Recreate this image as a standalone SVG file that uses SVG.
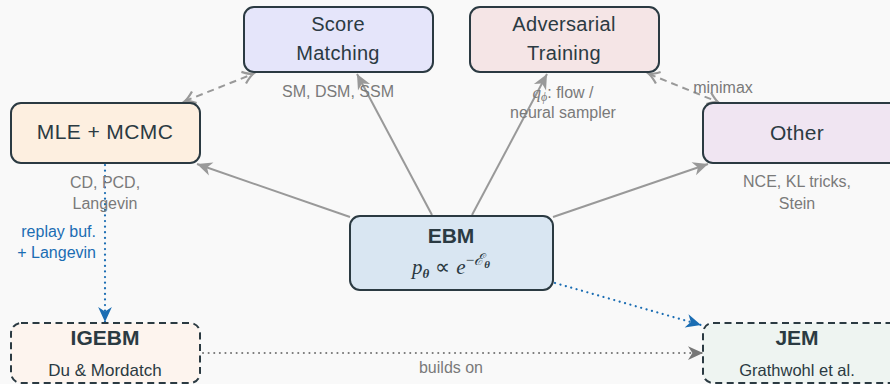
<svg xmlns="http://www.w3.org/2000/svg" width="890" height="384" viewBox="0 0 890 384">
<defs>
<style>
.node{stroke:#2b3a42;stroke-width:2}
.dash{stroke-dasharray:7 4.5}
.t{font-family:"Liberation Sans",Arial,sans-serif;fill:#2b3a42;text-anchor:middle}
.b{font-weight:bold}
.lab{font-family:"Liberation Sans",Arial,sans-serif;fill:#7a7a7a;font-size:16px;text-anchor:middle}
.blab{font-family:"Liberation Sans",Arial,sans-serif;fill:#1b6db3;font-size:16px;text-anchor:end}
.g{stroke:#999;stroke-width:2;fill:none}
.gd{stroke:#999;stroke-width:2;fill:none;stroke-dasharray:7 5}
.bl{stroke:#1b6db3;stroke-width:2.2;fill:none;stroke-dasharray:0.1 5.5;stroke-linecap:round}
.gy{stroke:#777;stroke-width:2;fill:none;stroke-dasharray:0.1 5.5;stroke-linecap:round}
</style>
<marker id="ag" markerUnits="userSpaceOnUse" markerWidth="20" markerHeight="20" refX="0" refY="0" viewBox="-14 -8 16 16" orient="auto">
<path d="M0,0 L-12,-5.5 L-8.5,0 L-12,5.5 z" fill="#999"/>
</marker>
<marker id="ao" markerUnits="userSpaceOnUse" markerWidth="20" markerHeight="20" refX="0" refY="0" viewBox="-12 -8 14 16" orient="auto-start-reverse">
<path d="M-8,-5 Q-3,-1 0,0 Q-3,1 -8,5" fill="none" stroke="#999" stroke-width="1.8"/>
</marker>
<marker id="ab" markerUnits="userSpaceOnUse" markerWidth="20" markerHeight="20" refX="0" refY="0" viewBox="-14 -8 16 16" orient="auto">
<path d="M0,0 L-12,-5.5 L-8.5,0 L-12,5.5 z" fill="#1b6db3"/>
</marker>
<marker id="ay" markerUnits="userSpaceOnUse" markerWidth="20" markerHeight="20" refX="0" refY="0" viewBox="-14 -8 16 16" orient="auto">
<path d="M0,0 L-12,-5.5 L-8.5,0 L-12,5.5 z" fill="#777"/>
</marker>
</defs>
<rect x="0" y="0" width="890" height="384" fill="#f9f9f9"/>

<g id="connectors">
<line class="g" x1="350" y1="217" x2="197" y2="164" marker-end="url(#ag)"/>
<line class="g" x1="432" y1="215" x2="357" y2="74" marker-end="url(#ag)"/>
<line class="g" x1="472" y1="215" x2="547" y2="74" marker-end="url(#ag)"/>
<line class="g" x1="553" y1="217" x2="708" y2="164" marker-end="url(#ag)"/>
<line class="gd" x1="185" y1="101" x2="253" y2="74" marker-start="url(#ao)" marker-end="url(#ao)"/>
<line class="gd" x1="649" y1="74" x2="718" y2="102" marker-start="url(#ao)" marker-end="url(#ao)"/>
<line class="bl" x1="105" y1="165" x2="105" y2="322" marker-end="url(#ab)"/>
<line class="bl" x1="555" y1="283" x2="701" y2="325" marker-end="url(#ab)"/>
<line class="gy" x1="203" y1="353" x2="703" y2="353" marker-end="url(#ay)"/>
</g>

<g id="score-matching">
<rect class="node" x="244" y="7" width="189" height="65" rx="10" fill="#e5e5fa"/>
<text class="t" x="338" y="31" font-size="20" letter-spacing="0.3">Score</text>
<text class="t" x="338" y="60" font-size="20" letter-spacing="0.3">Matching</text>
<text class="lab" x="338" y="97">SM, DSM, SSM</text>
</g>

<g id="adversarial-training">
<rect class="node" x="470" y="7" width="189" height="65" rx="10" fill="#f5e5e6"/>
<text class="t" x="564" y="31" font-size="20" letter-spacing="0.3">Adversarial</text>
<text class="t" x="564" y="60" font-size="20" letter-spacing="0.3">Training</text>
<text class="lab" x="563" y="98"><tspan font-family="Liberation Serif" font-style="italic" font-size="17">q</tspan><tspan font-family="Liberation Serif" font-style="italic" font-size="12" dy="3">ϕ</tspan><tspan dy="-3">:  flow /</tspan></text>
<text class="lab" x="563" y="118">neural sampler</text>
<text class="lab" x="723" y="93">minimax</text>
</g>

<g id="mle-mcmc">
<rect class="node" x="11" y="103" width="189" height="60" rx="10" fill="#fdefe0"/>
<text class="t" x="105" y="139" font-size="21" letter-spacing="0.4">MLE + MCMC</text>
<text class="lab" x="105" y="188">CD, PCD,</text>
<text class="lab" x="105" y="209">Langevin</text>
<text class="blab" x="96" y="237">replay buf.</text>
<text class="blab" x="96" y="258">+ Langevin</text>
</g>

<g id="other">
<rect class="node" x="703" y="103" width="196" height="60" rx="10" fill="#f0e5f2"/>
<text class="t" x="797" y="140" font-size="21" letter-spacing="0.3">Other</text>
<text class="lab" x="797" y="187">NCE, KL tricks,</text>
<text class="lab" x="797" y="209">Stein</text>
</g>

<g id="ebm">
<rect class="node" x="350" y="216" width="203" height="74" rx="10" fill="#d9e6f2"/>
<text class="t b" x="451" y="243" font-size="21">EBM</text>
<text x="451" y="274" font-family="Liberation Serif,serif" font-size="21" fill="#2b3a42" text-anchor="middle"><tspan font-style="italic">p</tspan><tspan font-style="italic" font-weight="bold" font-size="13" dy="4">θ</tspan><tspan dy="-4" dx="6">∝</tspan><tspan font-style="italic" dx="6">e</tspan><tspan font-size="15" dy="-9">−</tspan><tspan font-size="16" font-style="italic">ℰ</tspan><tspan font-size="11" font-style="italic" font-weight="bold" dy="3">θ</tspan></text>
</g>

<g id="igebm">
<rect class="node dash" x="11" y="323" width="189" height="60" rx="10" fill="#fdf4ee"/>
<text class="t b" x="105" y="345" font-size="21">IGEBM</text>
<text class="t" x="105" y="376" font-size="17">Du &amp; Mordatch</text>
</g>

<g id="jem">
<rect class="node dash" x="703" y="323" width="196" height="60" rx="10" fill="#eef4f1"/>
<text class="t b" x="797" y="345" font-size="21">JEM</text>
<text class="t" x="797" y="376" font-size="16.5">Grathwohl et al.</text>
</g>

<text class="lab" x="451" y="373">builds on</text>
</svg>
